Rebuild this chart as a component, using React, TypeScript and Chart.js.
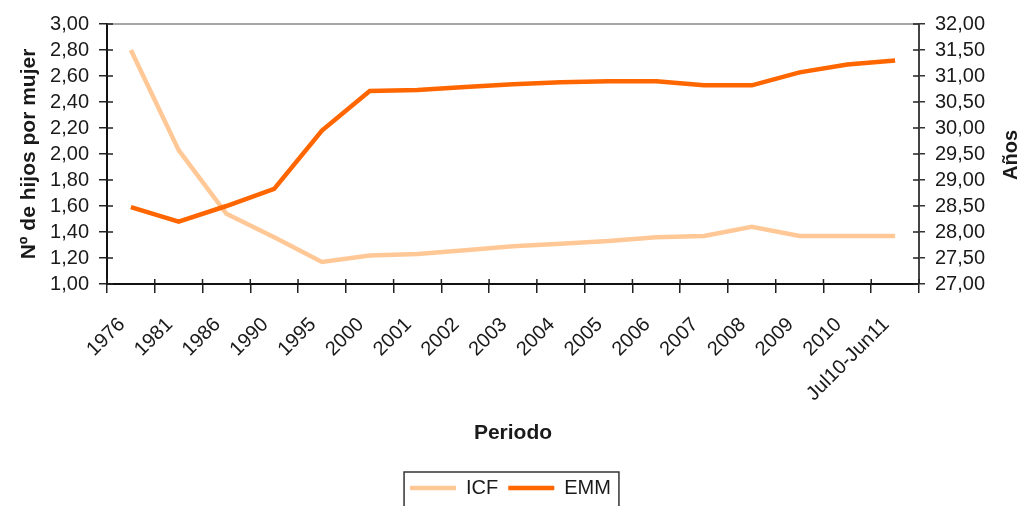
import React, { useEffect, useRef } from 'react';
import { Chart, registerables } from 'chart.js';

Chart.register(...registerables);

const categories = ['1976', '1981', '1986', '1990', '1995', '2000', '2001', '2002', '2003', '2004', '2005', '2006', '2007', '2008', '2009', '2010', 'Jul10-Jun11'];
const icfValues = [2.80, 2.03, 1.54, 1.36, 1.17, 1.22, 1.23, 1.26, 1.29, 1.31, 1.33, 1.36, 1.37, 1.44, 1.37, 1.37, 1.37];
const emmValues = [28.48, 28.20, 28.50, 28.83, 29.95, 30.71, 30.73, 30.79, 30.84, 30.88, 30.90, 30.90, 30.82, 30.82, 31.07, 31.22, 31.30];
const leftTicks = [1.0, 1.2, 1.4, 1.6, 1.8, 2.0, 2.2, 2.4, 2.6, 2.8, 3.0];
const rightTicks = [27.0, 27.5, 28.0, 28.5, 29.0, 29.5, 30.0, 30.5, 31.0, 31.5, 32.0];

const seriesNames = ['ICF', 'EMM'];
const leftTitle = 'Nº de hijos por mujer';
const rightTitle = 'Años';
const xTitle = 'Periodo';

const FONT = '"Liberation Sans", Arial, Helvetica, sans-serif';
const TEXT = '#1a1a1a';

const fmt = (v: number) => Number(v).toFixed(2).replace('.', ',');

const decorPlugin = {
  id: 'decor',
  afterDraw(chart: any) {
    const { ctx, chartArea } = chart;
    const { left, right, top, bottom } = chartArea;
    ctx.save();
    // top frame line
    ctx.strokeStyle = '#8a8a8a';
    ctx.lineWidth = 1.5;
    ctx.beginPath();
    ctx.moveTo(left, top);
    ctx.lineTo(right, top);
    ctx.stroke();
    // inner parts of the tick marks
    ctx.strokeStyle = '#222';
    ctx.lineWidth = 1.5;
    const ys = chart.scales.y;
    ys.ticks.forEach((_t: any, i: number) => {
      const py = ys.getPixelForTick(i);
      ctx.beginPath();
      ctx.moveTo(left, py);
      ctx.lineTo(left + 6, py);
      ctx.stroke();
    });
    const y1 = chart.scales.y1;
    y1.ticks.forEach((_t: any, i: number) => {
      const py = y1.getPixelForTick(i);
      ctx.beginPath();
      ctx.moveTo(right - 6, py);
      ctx.lineTo(right, py);
      ctx.stroke();
    });
    const xs = chart.scales.x;
    const n = categories.length;
    const step = (right - left) / n;
    for (let i = 0; i <= n; i++) {
      const px = xs.getPixelForValue(0) - step / 2 + i * step;
      ctx.beginPath();
      ctx.moveTo(px, bottom - 5);
      ctx.lineTo(px, bottom);
      ctx.stroke();
    }
    // right axis title (reads bottom to top)
    ctx.fillStyle = TEXT;
    ctx.font = `bold 20px ${FONT}`;
    ctx.textAlign = 'center';
    ctx.textBaseline = 'middle';
    ctx.translate(1011, (top + bottom) / 2 + 1);
    ctx.rotate(-Math.PI / 2);
    ctx.fillText(rightTitle, 0, 0);
    ctx.restore();
    // legend frame
    const lg = chart.legend;
    if (lg && lg.legendHitBoxes && lg.legendHitBoxes.length) {
      const hb = lg.legendHitBoxes;
      const minX = Math.min(...hb.map((h: any) => h.left));
      const maxX = Math.max(...hb.map((h: any) => h.left + h.width));
      ctx.save();
      ctx.strokeStyle = '#333';
      ctx.lineWidth = 1.5;
      ctx.strokeRect(minX - 6, lg.top + 4, maxX - minX + 14, 80);
      ctx.restore();
    }
  },
};

export default function App() {
  const ref = useRef<HTMLCanvasElement>(null);
  useEffect(() => {
    document.body.style.margin = '0';
    const chart = new Chart(ref.current as HTMLCanvasElement, {
      type: 'line',
      data: {
        labels: categories,
        datasets: [
          {
            label: seriesNames[0],
            data: icfValues,
            borderColor: '#FFC896',
            backgroundColor: '#FFC896',
            borderWidth: 4.5,
            pointRadius: 0,
            pointStyle: 'line',
            tension: 0,
            yAxisID: 'y',
            order: 2,
          },
          {
            label: seriesNames[1],
            data: emmValues,
            borderColor: '#FF6600',
            backgroundColor: '#FF6600',
            borderWidth: 4.5,
            pointRadius: 0,
            pointStyle: 'line',
            tension: 0,
            yAxisID: 'y1',
            order: 1,
          },
        ],
      },
      options: {
        animation: false,
        responsive: false,
        layout: { padding: { top: 24, left: 0, right: 0, bottom: -2 } },
        plugins: {
          tooltip: { enabled: false },
          legend: {
            position: 'bottom',
            labels: {
              usePointStyle: true,
              pointStyleWidth: 46,
              padding: 10,
              color: TEXT,
              font: { family: FONT, size: 20 },
              sort: (a: any, b: any) => a.datasetIndex - b.datasetIndex,
            },
          },
        },
        scales: {
          x: {
            type: 'category',
            offset: true,
            afterFit: (s: any) => { s.height = 184; },
            grid: { offset: true, drawOnChartArea: false, tickLength: 9, color: '#222', lineWidth: 1.5 },
            border: { color: '#111', width: 2 },
            ticks: {
              autoSkip: false,
              maxRotation: 45,
              minRotation: 45,
              padding: 20,
              labelOffset: -9,
              color: TEXT,
              font: { family: FONT, size: 20 },
            },
            title: {
              display: true,
              text: xTitle,
              color: TEXT,
              font: { family: FONT, size: 21, weight: 'bold' },
              padding: { top: 0, bottom: 22 },
            },
          },
          y: {
            type: 'linear',
            position: 'left',
            min: 1,
            max: 3,
            afterFit: (s: any) => { s.width = 107; },
            afterBuildTicks: (s: any) => { s.ticks = leftTicks.map((v) => ({ value: v })); },
            grid: { drawOnChartArea: false, tickLength: 8, color: '#222', lineWidth: 1.5 },
            border: { color: '#111', width: 2 },
            ticks: {
              autoSkip: false,
              padding: 10,
              color: TEXT,
              font: { family: FONT, size: 20 },
              callback: (v: any) => fmt(v),
            },
            title: {
              display: true,
              text: leftTitle,
              color: TEXT,
              font: { family: FONT, size: 21, weight: 'bold' },
              padding: { top: 17, bottom: 0 },
            },
          },
          y1: {
            type: 'linear',
            position: 'right',
            min: 27,
            max: 32,
            afterFit: (s: any) => { s.width = 102; },
            afterBuildTicks: (s: any) => { s.ticks = rightTicks.map((v) => ({ value: v })); },
            grid: { drawOnChartArea: false, tickLength: 6, color: '#333', lineWidth: 1.5 },
            border: { color: '#444', width: 2 },
            ticks: {
              autoSkip: false,
              padding: 10,
              color: TEXT,
              font: { family: FONT, size: 20 },
              callback: (v: any) => fmt(v),
            },
          },
        },
      },
      plugins: [decorPlugin],
    } as any);
    return () => chart.destroy();
  }, []);
  return (
    <div style={{ width: 1021, height: 506 }}>
      <canvas ref={ref} width={1021} height={506} style={{ display: 'block' }} />
    </div>
  );
}
